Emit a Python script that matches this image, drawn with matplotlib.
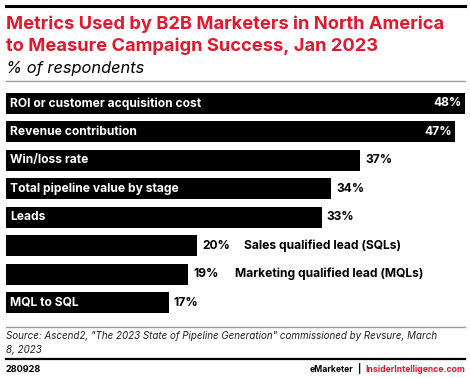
import matplotlib
matplotlib.use('Agg')
import matplotlib.pyplot as plt
from matplotlib.lines import Line2D

categories = ['ROI or customer acquisition cost', 'Revenue contribution', 'Win/loss rate',
              'Total pipeline value by stage', 'Leads', 'Sales qualified lead (SQLs)',
              'Marketing qualified lead (MQLs)', 'MQL to SQL']
values = [48, 47, 37, 34, 33, 20, 19, 17]
# label drawn inside the bar (True) or after the value (False)
label_inside = [True, True, True, True, True, False, False, True]

W, H = 470, 378
RED = '#e2182d'
FONT = 'Inter'

fig = plt.figure(figsize=(W / 100, H / 100), dpi=100)

def fx(px):
    return px / W

def fy(py):
    return 1 - py / H

def hline(y, x0, x1, color, lw):
    fig.add_artist(Line2D([fx(x0), fx(x1)], [fy(y), fy(y)], color=color, lw=lw,
                          transform=fig.transFigure))

hline(6, 6, 465, 'black', 2.2)
fig.text(fx(6), fy(24), 'Metrics Used by B2B Marketers in North America', color=RED,
         fontsize=13.2, fontweight='bold', family=FONT, va='center')
fig.text(fx(6), fy(46), 'to Measure Campaign Success, Jan 2023', color=RED,
         fontsize=13.2, fontweight='bold', family=FONT, va='center')
fig.text(fx(6), fy(68), '% of respondents', color='black', fontsize=11.8,
         style='italic', family=FONT, va='center')
hline(81, 6, 465, '#999999', 1.0)

# bar area
top, bottom = 89, 317
ax = fig.add_axes([fx(6), fy(bottom), fx(465) - fx(6), (bottom - top) / H])
n = len(values)
ypos = list(range(n))
ax.barh(ypos, values, height=0.74, color='black')
ax.set_xlim(0, 48)
ax.set_ylim(n - 0.5, -0.5)
ax.axis('off')

for i, (cat, v) in enumerate(zip(categories, values)):
    if v >= 45:
        ax.text(v - 0.35, i, f'{v}%', color='white', fontsize=8.7, fontweight='bold',
                family=FONT, ha='right', va='center')
    else:
        ax.text(v + 0.55, i, f'{v}%', color='black', fontsize=8.7, fontweight='bold',
                family=FONT, ha='left', va='center')
    if label_inside[i]:
        ax.text(0.45, i, cat, color='white', fontsize=8.7, fontweight='bold',
                family=FONT, ha='left', va='center')
    else:
        ax.text(v + 4.9, i, cat, color='black', fontsize=8.7, fontweight='bold',
                family=FONT, ha='left', va='center')

hline(327, 6, 465, '#999999', 1.0)
fig.text(fx(6), fy(336), 'Source: Ascend2, "The 2023 State of Pipeline Generation" commissioned by Revsure, March',
         fontsize=7.05, style='italic', family=FONT, va='center', color='#222222')
fig.text(fx(6), fy(350), '8, 2023', fontsize=7.05, style='italic', family=FONT,
         va='center', color='#222222')
hline(358.5, 6, 465, 'black', 1.6)
fig.text(fx(6), fy(369), '280928', fontsize=6.6, fontweight='bold', family=FONT, va='center')

# footer brand, laid out right to left
renderer = fig.canvas.get_renderer()
x = 465
for s, c, gap in [('InsiderIntelligence.com', RED, 4), ('|', 'black', 4), ('eMarketer', 'black', 0)]:
    t = fig.text(fx(x), fy(369), s, fontsize=6.2, fontweight='bold', family=FONT,
                 va='center', ha='right', color=c)
    bb = t.get_window_extent(renderer)
    x = x - bb.width - gap

fig.savefig('out.png', dpi=100)
